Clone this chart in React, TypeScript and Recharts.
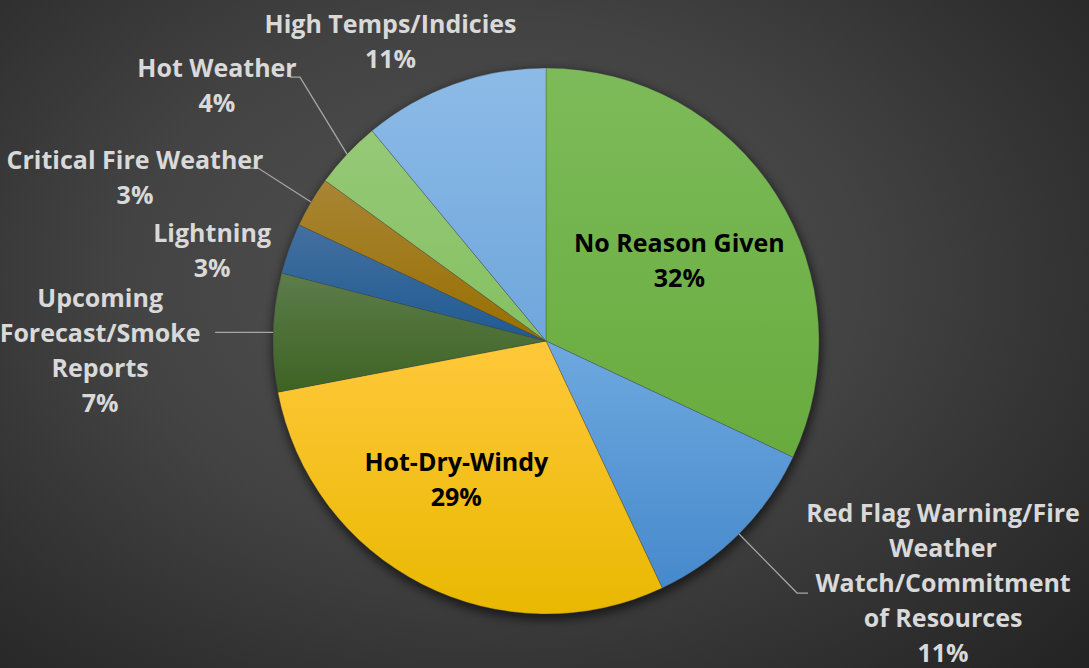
import React from 'react';
import { PieChart, Pie, Cell } from 'recharts';

// Reasons, clockwise from 12 o'clock
const categories = [
  'No Reason Given',
  'Red Flag Warning/Fire Weather Watch/Commitment of Resources',
  'Hot-Dry-Windy',
  'Upcoming Forecast/Smoke Reports',
  'Lightning',
  'Critical Fire Weather',
  'Hot Weather',
  'High Temps/Indicies',
];
const percents = [32, 11, 29, 7, 3, 3, 4, 11];

// wrapped label text for each slice
const labelLines = [
  ['No Reason Given'],
  ['Red Flag Warning/Fire', 'Weather', 'Watch/Commitment', 'of Resources'],
  ['Hot-Dry-Windy'],
  ['Upcoming', 'Forecast/Smoke', 'Reports'],
  ['Lightning'],
  ['Critical Fire Weather'],
  ['Hot Weather'],
  ['High Temps/Indicies'],
];

// slice fills: [top of gradient, bottom of gradient]
const sliceColors: [string, string][] = [
  ['#7dbb5a', '#68ab3d'],
  ['#6ea9df', '#4689cc'],
  ['#ffc83a', '#e9b800'],
  ['#5d7d4b', '#3d6323'],
  ['#43709f', '#1f5a93'],
  ['#a98535', '#986f00'],
  ['#96c977', '#86c062'],
  ['#8dbbe7', '#6fa6dc'],
];

const data = categories.map((name, i) => ({ name, value: percents[i] }));

const CX = 546;
const CY = 341;
const R = 273;
const LINE_H = 35;
const FONT = '"Open Sans", Lato, sans-serif';
const RADIAN = Math.PI / 180;

type Placement =
  | { inside: true; r: number; dx: number; dy: number }
  | {
      inside: false;
      dx: number;
      dy: number;
      leader?: { ex: number; ey: number; tail: number };
    };

// label placement, offsets from the slice's outer edge at its mid angle
const placements: Placement[] = [
  { inside: true, r: 0.57, dx: 2, dy: 2 },
  { inside: false, dx: 204, dy: 48, leader: { ex: 58, ey: 59, tail: 11 } },
  { inside: true, r: 0.57, dx: -19, dy: -1 },
  { inside: false, dx: -173, dy: 17, leader: { ex: -48, ey: 0, tail: -10 } },
  { inside: false, dx: -77, dy: 1 },
  { inside: false, dx: -176, dy: -26, leader: { ex: -53, ey: -34, tail: -10 } },
  { inside: false, dx: -130, dy: -70, leader: { ex: -47, ey: -77, tail: -10 } },
  { inside: false, dx: -63, dy: -44 },
];

const polar = (cx: number, cy: number, r: number, angle: number) => ({
  x: cx + Math.cos(-angle * RADIAN) * r,
  y: cy + Math.sin(-angle * RADIAN) * r,
});

const renderLabel = (props: any) => {
  const { cx, cy, midAngle, outerRadius, index, value } = props;
  const p = placements[index];
  const lines = [...labelLines[index], `${value}%`];
  let x: number;
  let y: number;
  let leader: React.ReactNode = null;
  if (p.inside) {
    const pt = polar(cx, cy, outerRadius * p.r, midAngle);
    x = pt.x + p.dx;
    y = pt.y + p.dy;
  } else {
    const edge = polar(cx, cy, outerRadius, midAngle);
    x = edge.x + p.dx;
    y = edge.y + p.dy;
    if (p.leader) {
      const ex = edge.x + p.leader.ex;
      const ey = edge.y + p.leader.ey;
      leader = (
        <polyline
          points={`${edge.x},${edge.y} ${ex},${ey} ${ex + p.leader.tail},${ey}`}
          fill="none"
          stroke="#a6a6a6"
          strokeWidth={1.3}
        />
      );
    }
  }
  const top = y - ((lines.length - 1) * LINE_H) / 2;
  return (
    <g key={`lbl-${index}`}>
      {leader}
      <text
        x={x}
        y={top}
        textAnchor="middle"
        dominantBaseline="central"
        fill={p.inside ? '#000000' : '#d9d9d9'}
        fontFamily={FONT}
        fontWeight={700}
        fontSize={25}
      >
        {lines.map((t, i) => (
          <tspan key={i} x={x} dy={i === 0 ? 0 : LINE_H}>
            {t}
          </tspan>
        ))}
      </text>
    </g>
  );
};

export default function App() {
  return (
    <div
      style={{
        position: 'absolute',
        left: 0,
        top: 0,
        width: 1089,
        height: 668,
        background:
          'radial-gradient(ellipse 75% 85% at 45% 42%, #525252 0%, #434343 45%, #2e2e2e 80%, #232323 100%)',
      }}
    >
      <PieChart width={1089} height={668} margin={{ top: 0, right: 0, bottom: 0, left: 0 }}>
        <defs>
          {sliceColors.map(([a, b], i) => (
            <linearGradient key={i} id={`slice-${i}`} x1="0" y1="0" x2="0" y2="1">
              <stop offset="0%" stopColor={a} />
              <stop offset="100%" stopColor={b} />
            </linearGradient>
          ))}
        </defs>
        {/* soft shadow under the pie */}
        <Pie
          data={[{ name: 'shadow', value: 1 }]}
          dataKey="value"
          cx={CX + 1}
          cy={CY + 4}
          outerRadius={R + 2}
          stroke="none"
          isAnimationActive={false}
          legendType="none"
        >
          <Cell fill="rgba(0,0,0,0.55)" style={{ filter: 'blur(5px)' }} />
        </Pie>
        <Pie
          data={data}
          dataKey="value"
          nameKey="name"
          cx={CX}
          cy={CY}
          outerRadius={R}
          startAngle={90}
          endAngle={-270}
          stroke="rgba(70,70,70,0.45)"
          strokeWidth={0.75}
          label={renderLabel}
          labelLine={false}
          isAnimationActive={false}
        >
          {data.map((d, i) => (
            <Cell key={d.name} fill={`url(#slice-${i})`} />
          ))}
        </Pie>
      </PieChart>
    </div>
  );
}
